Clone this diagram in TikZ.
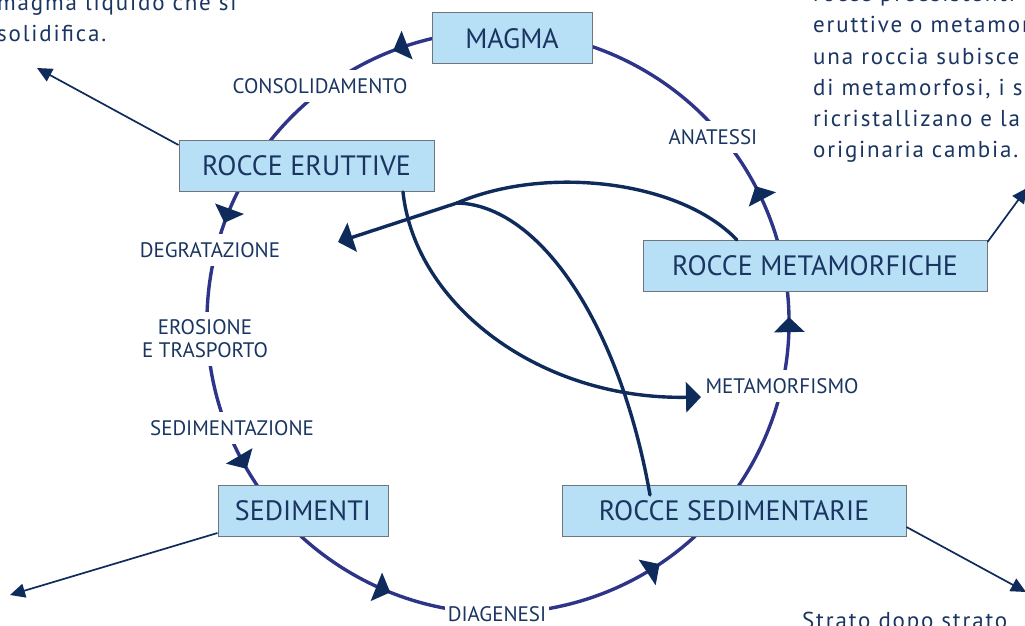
\documentclass[tikz,border=0pt]{standalone}
\usepackage{fontspec}
\setmainfont{PT Sans}
\newfontfamily\notefont{PT Sans}[LetterSpace=8]
\usepackage{tikz}
\usetikzlibrary{arrows.meta, decorations.markings}

\definecolor{boxfill}{HTML}{B7DFF6}
\definecolor{boxline}{HTML}{70757A}
\definecolor{cycleline}{HTML}{2E3488}
\definecolor{navy}{HTML}{0F2B5B}
\definecolor{inktext}{HTML}{1A3561}

\tikzset{
  rockbox/.style={draw=boxline, line width=1pt, fill=boxfill, text=inktext,
    font=\fontsize{28}{30}\selectfont, minimum height=51pt, inner sep=0pt},
  steplabel/.style={fill=white, text=inktext, font=\fontsize{21}{23}\selectfont,
    inner xsep=3pt, inner ysep=8pt, align=center},
  sidetext/.style={text=inktext, font=\notefont\fontsize{23}{31.3}\selectfont,
    align=left, inner sep=0pt},
  bigtip/.style={-{Triangle[width=30pt,length=15pt]}},
  leader/.style={navy, line width=1.7pt, -{Triangle[width=14pt,length=15pt]}},
  crossing/.style={navy, line width=3.4pt, line cap=round},
}

\begin{document}
\begin{tikzpicture}[x=1pt,y=1pt]
		\useasboundingbox (0,0) rectangle (1025,625);
		\clip (0,0) rectangle (1025,625);

		% Draw the cycle of the rocks
		\coordinate (hub) at (498,303);
		\draw[cycleline, line width=3.4pt, postaction={decorate},
			decoration={markings,
				mark=at position 0.142 with {\arrow[navy]{Triangle[width=30pt,length=15pt]}},
				mark=at position 0.278 with {\arrow[navy]{Triangle[width=30pt,length=15pt]}},
				mark=at position 0.4175 with {\arrow[navy]{Triangle[width=30pt,length=15pt]}},
				mark=at position 0.523 with {\arrow[navy]{Triangle[width=30pt,length=15pt]}},
				mark=at position 0.677 with {\arrow[navy]{Triangle[width=30pt,length=15pt]}},
				mark=at position 0.836 with {\arrow[navy]{Triangle[width=30pt,length=15pt]}},
				mark=at position 0.9106 with {\arrow[navy]{Triangle[width=30pt,length=15pt]}}}]
			([shift={(60:291)}]hub) arc[start angle=60, end angle=420, radius=291];

		% Add labels for the steps
		\node[steplabel] (consolidamento) at (320,539) {CONSOLIDAMENTO};
		\node[steplabel] (anatessi) at (713,488) {ANATESSI};
		\node[steplabel] (degratazione) at (210,375) {DEGRATAZIONE};
		\node[steplabel] (erosione) at (205,286) {EROSIONE\\E TRASPORTO};
		\node[steplabel] (sedimentazione) at (232,197) {SEDIMENTAZIONE};
		\node[steplabel, inner ysep=2pt] (diagenesi) at (497,11) {DIAGENESI};
		\node[steplabel] (metamorfismo) at (782,239) {METAMORFISMO};

		% Draw the boxes for the rocks
		\node[rockbox, minimum width=160pt] (magma) at (512,586.5) {MAGMA};
		\node[rockbox, minimum width=255pt] (eruttive) at (306.5,459) {ROCCE ERUTTIVE};
		\node[rockbox, minimum width=344pt] (metamorfiche) at (815,359) {ROCCE METAMORFICHE};
		\node[rockbox, minimum width=170pt] (sedimenti) at (303,114) {SEDIMENTI};
		\node[rockbox, minimum width=344pt] (sedimentarie) at (734,114) {ROCCE SEDIMENTARIE};

		% Draw the crossing paths
		\coordinate (meta in) at (701,228);
		\coordinate (merge) at (457,422);
		\coordinate (erosion in) at (338,383);
		\draw[crossing, bigtip] ([xshift=96.5pt]eruttive.south) .. controls (415,320) and (540,225) .. (meta in);
		\draw[crossing] ([xshift=-78pt]metamorfiche.north) .. controls (680,445) and (545,460) .. (merge);
		\draw[crossing] ([xshift=-84pt,yshift=-10pt]sedimentarie.north) .. controls (620,300) and (540,420) .. (merge);
		\draw[crossing, bigtip] (merge) -- (erosion in);

		% Add the pointers to the notes
		\coordinate (eruttive out) at (37,557);
		\coordinate (sedimenti out) at (10,30);
		\coordinate (sedimentarie out) at (1026,33);
		\coordinate (metamorfiche out) at (1027,437);
		\draw[leader] ([yshift=-5pt]eruttive.north west) -- (eruttive out);
		\draw[leader] ([yshift=4pt]sedimenti.south west) -- (sedimenti out);
		\draw[leader] ([yshift=10pt]sedimentarie.south east) -- (sedimentarie out);
		\draw[leader] ([yshift=-2pt]metamorfiche.north east) -- (metamorfiche out);

		% Add the notes
		\node[sidetext, anchor=base west] (magma note) at (-3,583) {magma liquido che si\\solidifica.};
		\node[sidetext, anchor=base west] (metamorfiche note) at (813,467)
			{rocce preesistenti\\eruttive o metamorfiche\\una roccia subisce\\di metamorfosi, i suoi\\ricristallizano e la\\originaria cambia.};
		\node[sidetext, anchor=base west] (strato note) at (802,-3) {Strato dopo strato};

	\end{tikzpicture}
\end{document}
